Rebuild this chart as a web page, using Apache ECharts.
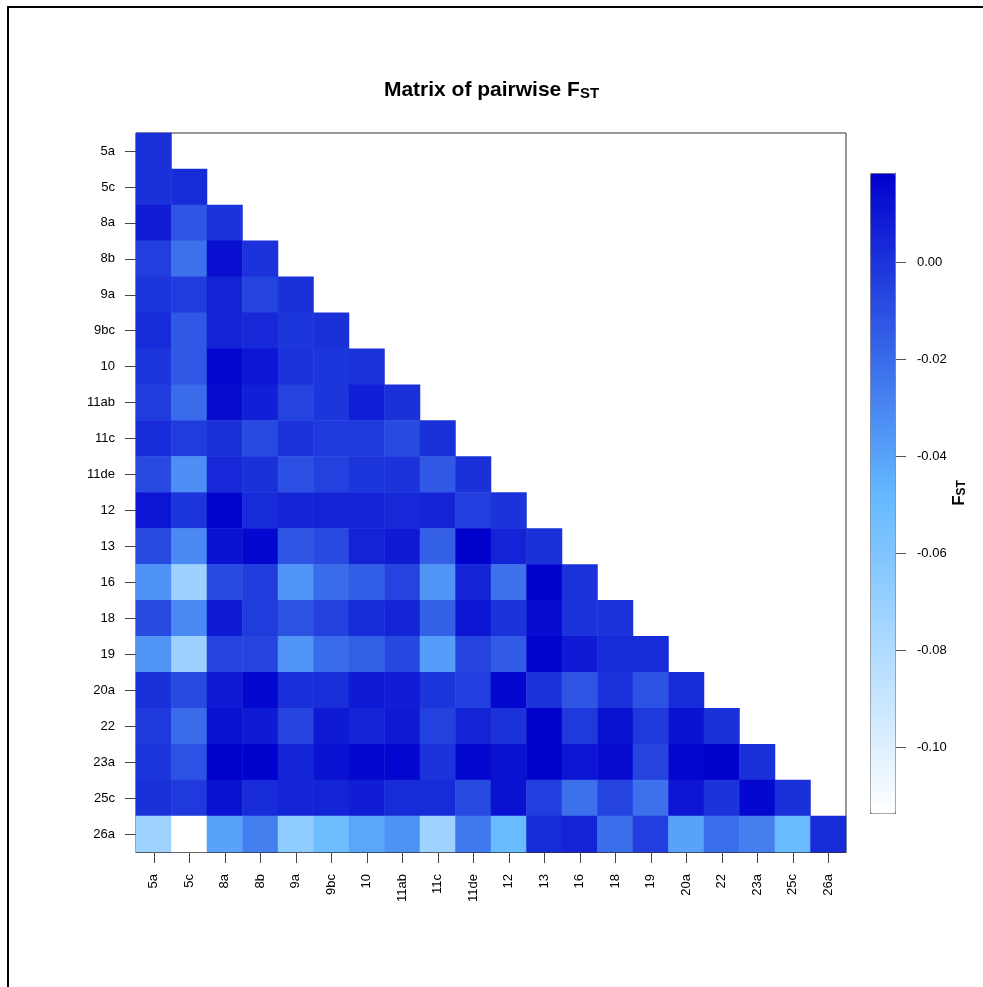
<!DOCTYPE html>
<html>
<head>
<meta charset="utf-8">
<title>Matrix of pairwise FST</title>
<script src="https://cdn.jsdelivr.net/npm/echarts@6/dist/echarts.min.js"></script>
<style>
	html, body { margin: 0; padding: 0; background: #fff; }
	#main { width: 983px; height: 987px; }
</style>
</head>
<body>
<div id="main"></div>
<script>
// populations (same order on both axes)
var categories = ['5a', '5c', '8a', '8b', '9a', '9bc', '10', '11ab', '11c', '11de',
	'12', '13', '16', '18', '19', '20a', '22', '23a', '25c', '26a'];

// lower triangle, row i holds columns 0..i
var fstRows = [
	[0.001],
	[0.001, 0.003],
	[0.008, -0.012, 0.000],
	[-0.004, -0.022, 0.013, 0.000],
	[-0.001, -0.003, 0.006, -0.006, 0.001],
	[0.003, -0.013, 0.006, 0.004, -0.001, 0.001],
	[-0.001, -0.013, 0.016, 0.011, 0.000, -0.001, 0.000],
	[-0.003, -0.020, 0.014, 0.007, -0.006, -0.001, 0.007, 0.001],
	[0.003, -0.003, 0.001, -0.008, 0.000, -0.002, -0.002, -0.008, 0.001],
	[-0.008, -0.033, 0.004, 0.001, -0.010, -0.005, -0.001, 0.000, -0.013, 0.001],
	[0.011, -0.001, 0.017, 0.003, 0.006, 0.006, 0.006, 0.004, 0.006, -0.004, 0.000],
	[-0.008, -0.031, 0.012, 0.016, -0.012, -0.008, 0.006, 0.009, -0.016, 0.018, 0.006, 0.001],
	[-0.034, -0.072, -0.008, -0.003, -0.035, -0.020, -0.015, -0.006, -0.035, 0.006, -0.022, 0.018, 0.000],
	[-0.008, -0.031, 0.009, -0.003, -0.011, -0.005, 0.003, 0.005, -0.016, 0.010, 0.000, 0.014, 0.000, 0.000],
	[-0.035, -0.072, -0.006, -0.006, -0.035, -0.020, -0.016, -0.007, -0.038, -0.006, -0.014, 0.017, 0.009, 0.003, 0.003],
	[0.001, -0.008, 0.009, 0.016, 0.002, 0.002, 0.009, 0.008, -0.001, -0.004, 0.016, 0.000, -0.012, 0.000, -0.011, 0.003],
	[-0.002, -0.020, 0.012, 0.009, -0.006, 0.009, 0.006, 0.009, -0.005, 0.006, 0.000, 0.018, -0.002, 0.012, -0.002, 0.012, 0.001],
	[-0.001, -0.011, 0.018, 0.018, 0.006, 0.012, 0.016, 0.016, 0.000, 0.016, 0.012, 0.018, 0.011, 0.014, -0.006, 0.016, 0.018, 0.001],
	[0.001, -0.002, 0.012, 0.003, 0.006, 0.006, 0.008, 0.003, 0.003, -0.008, 0.012, -0.004, -0.022, -0.006, -0.022, 0.010, 0.000, 0.016, 0.001],
	[-0.073, -0.1136, -0.040, -0.027, -0.066, -0.052, -0.041, -0.034, -0.073, -0.025, -0.050, 0.003, 0.006, -0.021, -0.004, -0.040, -0.021, -0.027, -0.050, 0.003]
];

// colour key
var keyMin = -0.1136;
var keyMax = 0.0184;
var keyTicks = [-0.10, -0.08, -0.06, -0.04, -0.02, 0.00];
var keyColors = ['#ffffff', '#63b8ff', '#0000cd'];

// heatmap data: [column, row, value]
var cells = [];
fstRows.forEach(function(row, i) {
	row.forEach(function(v, j) {
		cells.push([j, i, v]);
	});
});

var font = '"Liberation Sans", Arial, sans-serif';

var myChart = echarts.init(document.getElementById('main'));

var option = {
	backgroundColor: '#fff',
	animation: false,
	textStyle: { fontFamily: font },
	title: {
		text: '{a|Matrix of pairwise F}{b|ST}',
		left: 'center',
		top: 67,
		textStyle: {
			rich: {
				a: { fontFamily: font, fontSize: 21, fontWeight: 'bold', color: '#000', lineHeight: 29, verticalAlign: 'bottom' },
				b: { fontFamily: font, fontSize: 15, fontWeight: 'bold', color: '#000', lineHeight: 15, verticalAlign: 'bottom' }
			}
		}
	},
	graphic: [{
		type: 'rect',
		shape: { x: 8, y: 7, width: 1000, height: 1000 },
		style: { fill: 'none', stroke: '#000', lineWidth: 2 },
		silent: true
	}],
	grid: [
		{ left: 136, top: 133, width: 710, height: 719, show: true, borderColor: '#333', borderWidth: 1, backgroundColor: 'transparent' },
		{ left: 870, top: 173, width: 25, height: 640, show: false }
	],
	xAxis: [{
		type: 'category',
		gridIndex: 0,
		data: categories,
		splitArea: { show: false },
		axisLine: { show: true, lineStyle: { color: '#333' } },
		axisTick: { show: true, alignWithLabel: true, length: 11, lineStyle: { color: '#444' } },
		axisLabel: { rotate: 90, margin: 22, fontSize: 13, color: '#000', fontFamily: font, interval: 0 }
	}, {
		type: 'value',
		gridIndex: 1,
		show: false,
		min: 0,
		max: 1
	}],
	yAxis: [{
		type: 'category',
		gridIndex: 0,
		data: categories,
		inverse: true,
		splitArea: { show: false },
		axisLine: { show: true, lineStyle: { color: '#333' } },
		axisTick: { show: true, alignWithLabel: true, length: 11, lineStyle: { color: '#444' } },
		axisLabel: { margin: 21, fontSize: 13, color: '#000', fontFamily: font, interval: 0 }
	}, {
		type: 'value',
		gridIndex: 1,
		position: 'right',
		min: keyMin,
		max: keyMax,
		splitLine: { show: false },
		axisLine: { show: true, onZero: false, lineStyle: { color: '#777' } },
		axisTick: { show: true, length: 11, lineStyle: { color: '#555' }, customValues: keyTicks },
		axisLabel: {
			margin: 22, fontSize: 13, color: '#000', fontFamily: font,
			customValues: keyTicks,
			formatter: function(v) { return v.toFixed(2); }
		},
		name: '{a|F}{b|ST}',
		nameLocation: 'middle',
		nameRotate: 90,
		nameGap: 50,
		nameTextStyle: {
			rich: {
				a: { fontFamily: font, fontSize: 17, fontWeight: 'bold', color: '#000', lineHeight: 23, verticalAlign: 'bottom' },
				b: { fontFamily: font, fontSize: 12, fontWeight: 'bold', color: '#000', lineHeight: 12, verticalAlign: 'bottom' }
			}
		}
	}],
	visualMap: {
		type: 'continuous',
		seriesIndex: 0,
		min: keyMin,
		max: keyMax,
		calculable: false,
		orient: 'vertical',
		left: 870,
		top: 173,
		itemWidth: 25,
		itemHeight: 640,
		padding: 0,
		text: null,
		showLabel: false,
		borderColor: '#777',
		borderWidth: 1,
		inRange: { color: keyColors }
	},
	series: [{
		type: 'heatmap',
		xAxisIndex: 0,
		yAxisIndex: 0,
		data: cells,
		itemStyle: { borderWidth: 0 },
		emphasis: { disabled: true }
	}, {
		// invisible, only gives the key axis an extent
		type: 'line',
		xAxisIndex: 1,
		yAxisIndex: 1,
		data: [[0.5, keyMin], [0.5, keyMax]],
		symbol: 'none',
		silent: true,
		lineStyle: { opacity: 0 }
	}]
};

myChart.setOption(option);
</script>
</body>
</html>
